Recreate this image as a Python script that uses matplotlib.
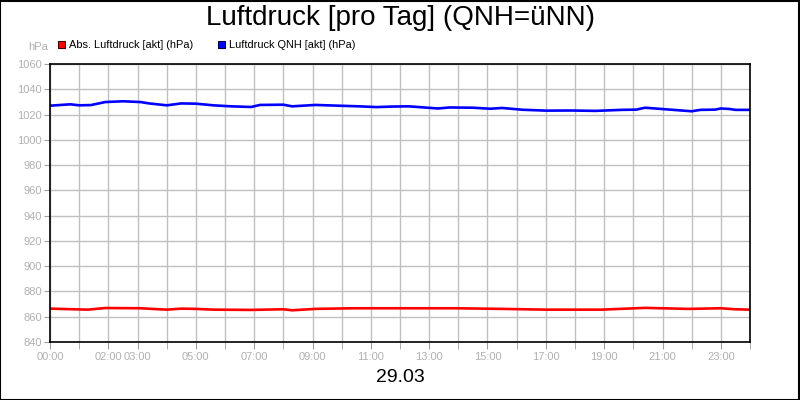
import matplotlib.pyplot as plt
import numpy as np
from matplotlib.patches import Rectangle

plt.rcParams['font.family'] = ['Liberation Sans', 'DejaVu Sans']

qnh_h = [0.0, 0.7, 1.0, 1.4, 1.9, 2.5, 3.1, 3.4, 4.0, 4.5, 5.0, 5.6, 6.2, 6.9, 7.2,
         8.0, 8.3, 9.1, 9.9, 10.6, 11.2, 11.7, 12.3, 13.3, 13.7, 14.5, 15.1, 15.5,
         16.2, 17.0, 17.9, 18.7, 19.6, 20.1, 20.4, 21.2, 22.0, 22.3, 22.8, 23.0,
         23.3, 23.5, 24.0]
qnh = [1027.0, 1028.1, 1027.3, 1027.5, 1029.9, 1030.5, 1029.9, 1028.8, 1027.3, 1028.8,
       1028.6, 1027.3, 1026.5, 1026.0, 1027.6, 1027.8, 1026.5, 1027.6, 1027.0, 1026.5,
       1025.9, 1026.3, 1026.5, 1024.8, 1025.6, 1025.4, 1024.6, 1025.2, 1023.8, 1023.1,
       1023.2, 1022.9, 1023.7, 1023.9, 1025.4, 1024.0, 1022.6, 1023.7, 1023.9, 1024.8,
       1024.4, 1023.7, 1023.7]

abs_h = [0.0, 1.3, 1.9, 3.1, 4.0, 4.5, 5.0, 5.6, 6.9, 8.0, 8.3, 9.1, 10.4, 12.0,
         13.9, 15.5, 17.0, 18.9, 20.4, 21.9, 23.0, 23.5, 24.0]
abs_p = [866.4, 865.6, 866.9, 866.7, 865.6, 866.4, 866.2, 865.6, 865.4, 865.9, 865.1,
         866.2, 866.7, 866.7, 866.7, 866.2, 865.6, 865.6, 867.0, 866.2, 866.7, 865.9, 865.6]

series_names = ['Abs. Luftdruck [akt] (hPa)', 'Luftdruck QNH [akt] (hPa)']
series_colors = ['#ff0000', '#0000ff']
tick_hours = [0, 2, 3, 5, 7, 9, 11, 13, 15, 17, 19, 21, 23]
tick_labels = ['%02d:00' % h for h in tick_hours]
y_ticks = list(range(840, 1061, 20))

fig = plt.figure(figsize=(8, 4), dpi=100)
ax = fig.add_axes([50 / 800, 58 / 400, 700 / 800, 278 / 400])

ax.plot(abs_h, abs_p, color=series_colors[0], lw=1.9, solid_joinstyle='round')
ax.plot(qnh_h, qnh, color=series_colors[1], lw=1.9, solid_joinstyle='round')

ax.set_xlim(0, 24)
ax.set_ylim(840, 1060)
ax.set_xticks(range(0, 25), minor=True)
ax.set_xticks(tick_hours)
ax.set_xticklabels(tick_labels)
ax.set_yticks(y_ticks)
ax.grid(True, which='both', color='#c0c0c0', lw=1)
ax.set_axisbelow(True)
ax.tick_params(axis='x', which='both', length=5, color='#a0a0a0',
               labelcolor='#b0b0b0', labelsize=8, pad=2)
ax.tick_params(axis='y', length=4, color='#a0a0a0', labelcolor='#b0b0b0', labelsize=8, pad=2)
for s in ax.spines.values():
    s.set_color('black')
    s.set_linewidth(1.2)

fig.text(0.5, 1 - 18 / 400, 'Luftdruck [pro Tag] (QNH=üNN)', ha='center', va='center', fontsize=20)
fig.text(0.5, 1 - 378 / 400, '29.03', ha='center', va='center', fontsize=14)
fig.text(48 / 800, 1 - 47 / 400, 'hPa', ha='right', va='center', fontsize=8, color='#b0b0b0')

# Legende
for x0, name, c in zip([58, 218], series_names, series_colors):
    fig.patches.append(Rectangle((x0 / 800, 1 - 48 / 400), 7 / 800, 7 / 400,
                                 transform=fig.transFigure, facecolor=c, edgecolor='#400000' if c == '#ff0000' else '#000040', lw=0.8))
    fig.text((x0 + 11) / 800, 1 - 44.5 / 400, name, ha='left', va='center', fontsize=7.9)

fig.patches.append(Rectangle((0.0006, 0.001), 0.998, 0.997, transform=fig.transFigure,
                             fill=False, edgecolor='black', lw=1.5))

fig.savefig('out.png', dpi=100)
